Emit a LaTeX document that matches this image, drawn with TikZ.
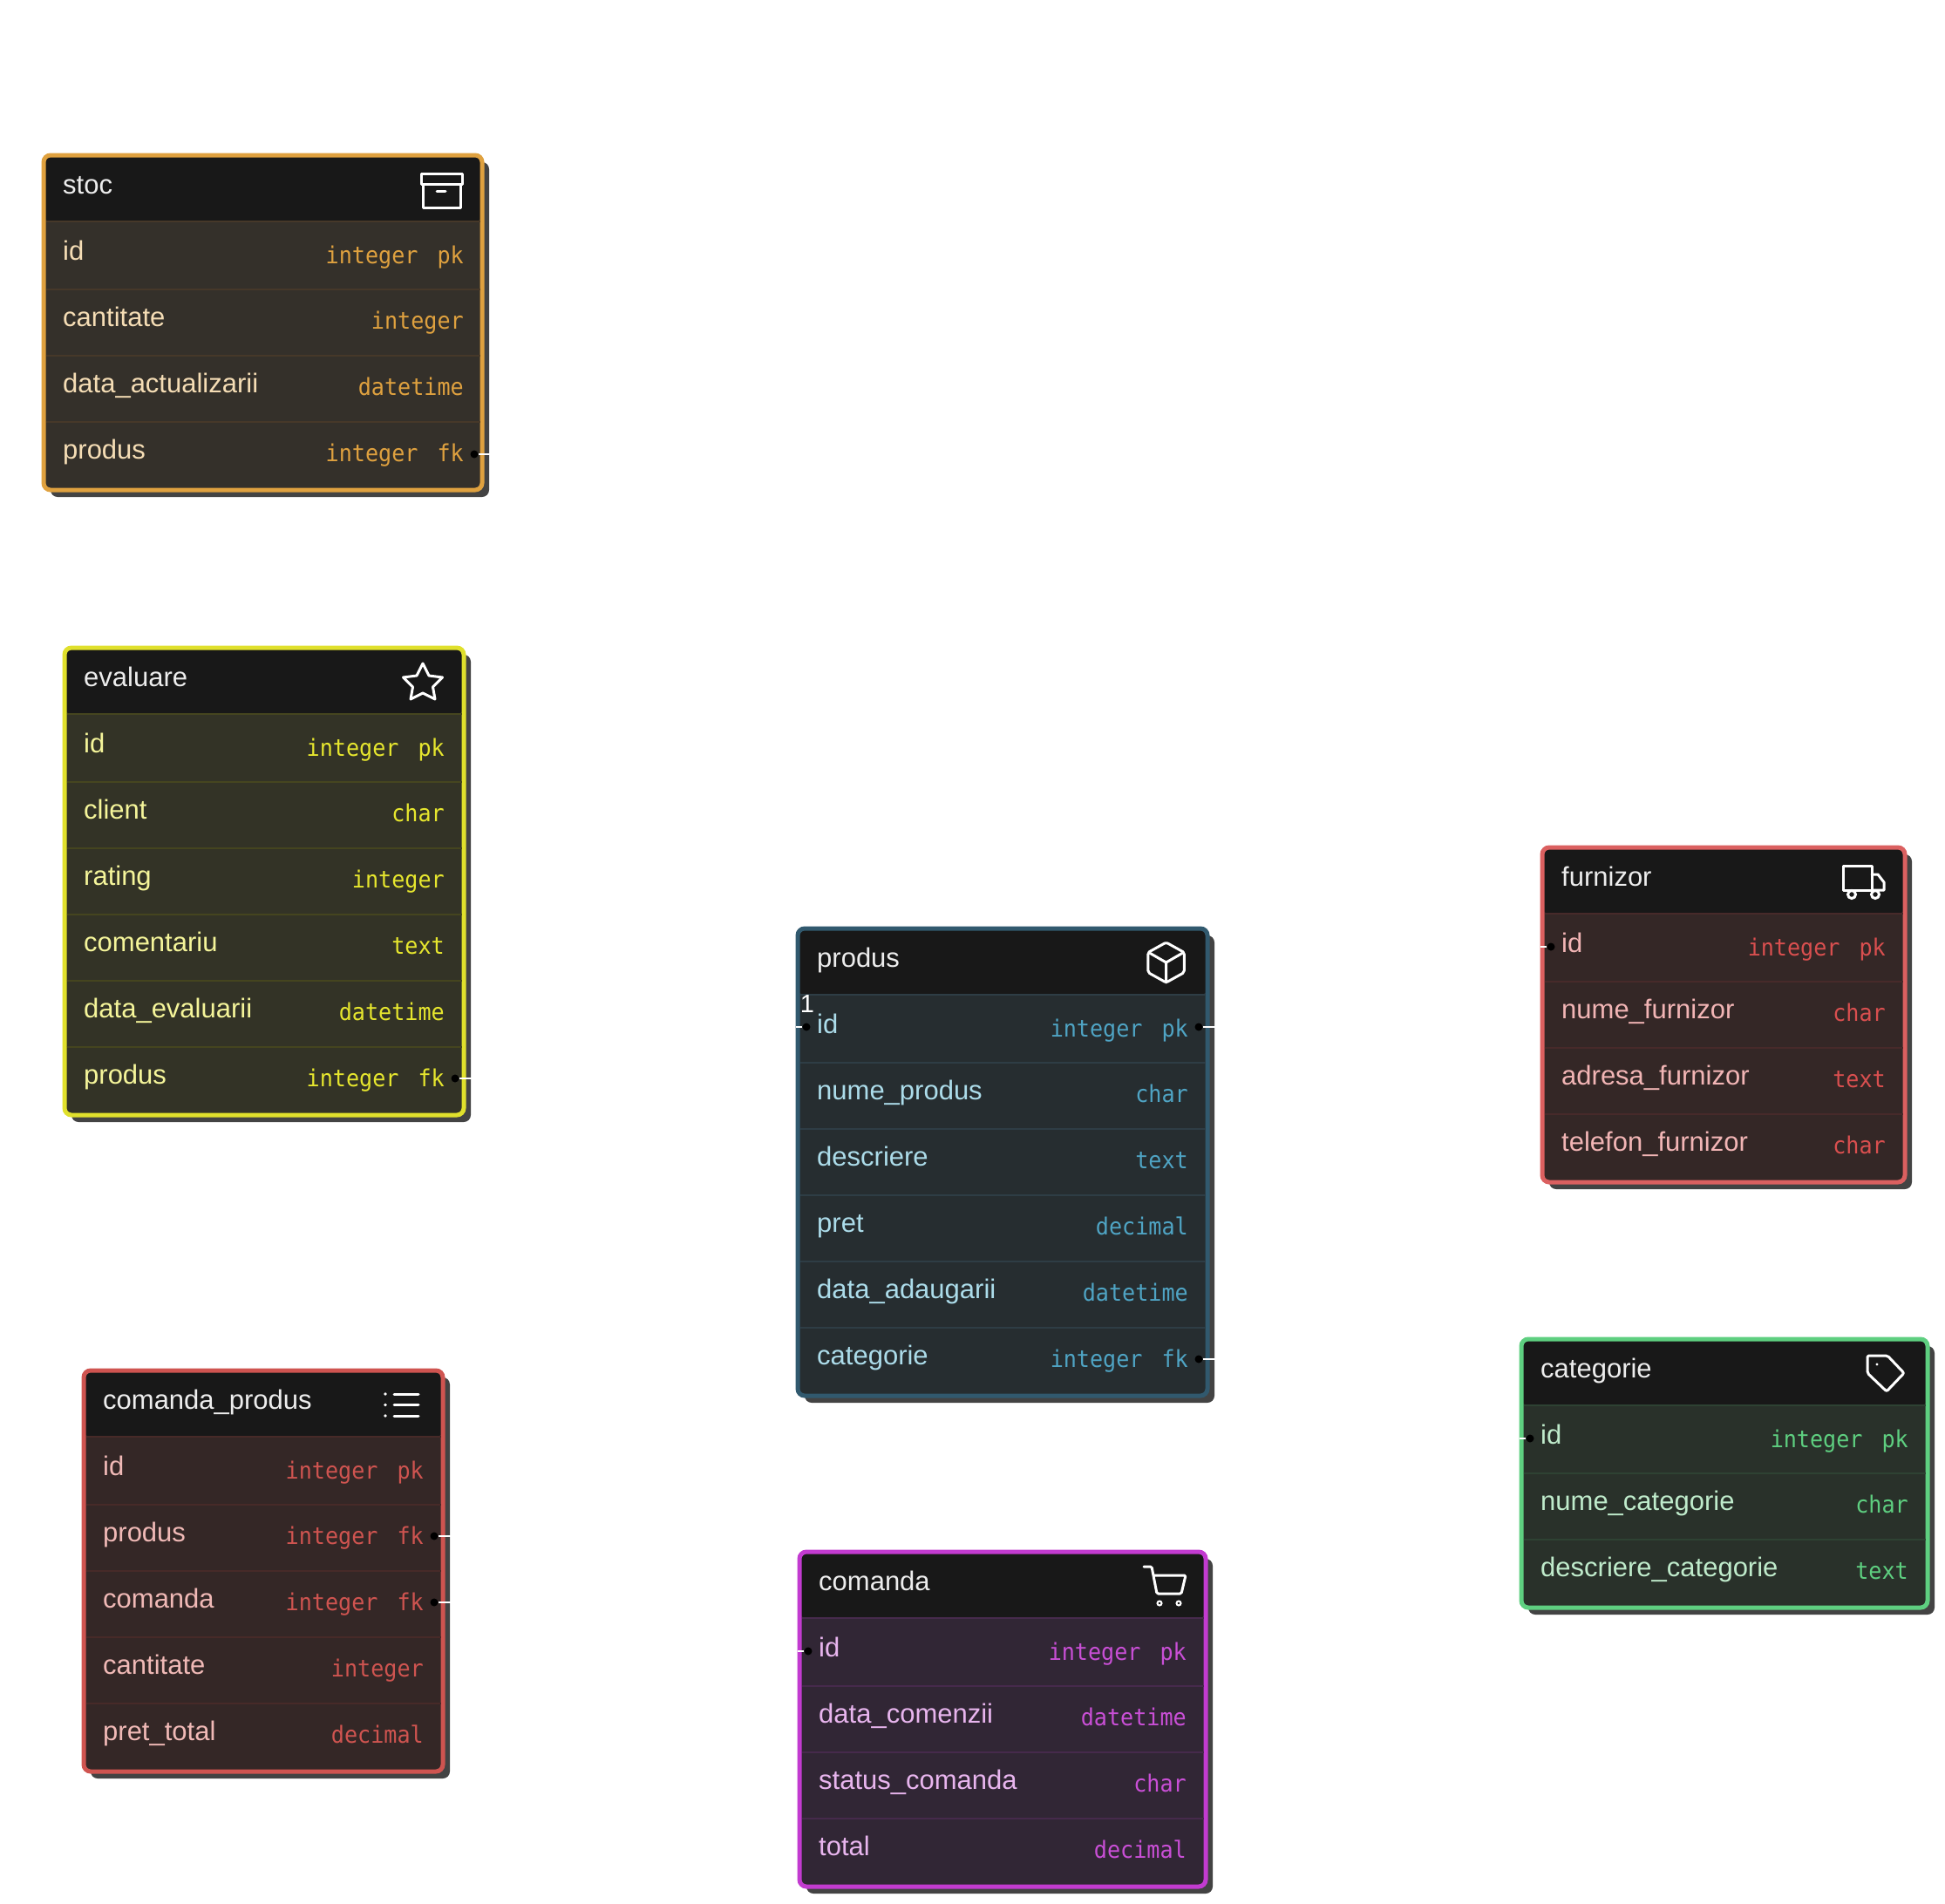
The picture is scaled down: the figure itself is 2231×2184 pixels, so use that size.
\documentclass[tikz,border=0pt]{standalone}
\usepackage{fontspec}
\usepackage{xcolor}
\setmainfont{Liberation Sans}
\newfontfamily\typefont[FakeStretch=0.93]{DejaVu Sans Mono}
\usetikzlibrary{calc,shadows}
\definecolor{headfill}{HTML}{181818}
\definecolor{headtext}{HTML}{EDEDED}
\definecolor{shadowgrey}{HTML}{434343}
\definecolor{stocline}{HTML}{DFA13F}
\definecolor{stocfill}{HTML}{34302A}
\definecolor{stocsep}{HTML}{463829}
\definecolor{stocsoft}{HTML}{F5DDB5}
\definecolor{stocink}{HTML}{DFA13F}
\definecolor{evalline}{HTML}{E0E02C}
\definecolor{evalfill}{HTML}{333326}
\definecolor{evalsep}{HTML}{45451F}
\definecolor{evalsoft}{HTML}{F5F59A}
\definecolor{evalink}{HTML}{E6E62E}
\definecolor{cpline}{HTML}{CF5450}
\definecolor{cpfill}{HTML}{342726}
\definecolor{cpsep}{HTML}{472A28}
\definecolor{cpsoft}{HTML}{F0B9B6}
\definecolor{cpink}{HTML}{CF5450}
\definecolor{prodline}{HTML}{31596E}
\definecolor{prodfill}{HTML}{262D30}
\definecolor{prodsep}{HTML}{2E3D45}
\definecolor{prodsoft}{HTML}{ACDCEA}
\definecolor{prodink}{HTML}{4FA4C4}
\definecolor{cmdline}{HTML}{C23BD0}
\definecolor{cmdfill}{HTML}{312635}
\definecolor{cmdsep}{HTML}{462A4C}
\definecolor{cmdsoft}{HTML}{E8B5EE}
\definecolor{cmdink}{HTML}{C94FD6}
\definecolor{furnline}{HTML}{DB6060}
\definecolor{furnfill}{HTML}{342726}
\definecolor{furnsep}{HTML}{472A2A}
\definecolor{furnsoft}{HTML}{F2B5B5}
\definecolor{furnink}{HTML}{D94F4F}
\definecolor{catline}{HTML}{5ECF80}
\definecolor{catfill}{HTML}{29312A}
\definecolor{catsep}{HTML}{2E4233}
\definecolor{catsoft}{HTML}{BFEBCB}
\definecolor{catink}{HTML}{5ECF80}

\begin{document}
\begin{tikzpicture}[
  x=1pt,y=-1pt,
  tablebox/.style={rectangle,draw,line width=5pt,rounded corners=8pt,anchor=north west,
                   inner sep=0pt,outer sep=0pt,
                   drop shadow={shadow xshift=8pt,shadow yshift=-8pt,fill=shadowgrey,opacity=1},
                   path picture={\fill[headfill] (path picture bounding box.north west) rectangle
                     ([yshift=-76pt]path picture bounding box.north east);}},
  tabletitle/.style={anchor=base west,inner sep=0pt,yshift=-1pt,text=headtext,font=\fontsize{31}{34}\selectfont},
  fieldname/.style={anchor=base west,inner sep=0pt,yshift=-1pt,font=\fontsize{31}{34}\selectfont},
  fieldtype/.style={anchor=base east,inner sep=0pt,font=\typefont\fontsize{27}{30}\selectfont},
  sepline/.style={line width=2.5pt},
  icon/.style={draw=white,line width=3pt,line join=round,line cap=round},
  port/.style={circle,fill=black,minimum size=9pt,inner sep=0pt},
  stub/.style={draw=white,line width=2.5pt},
  stocname/.style={fieldname,text=stocsoft},
  stoctype/.style={fieldtype,text=stocink},
  evalname/.style={fieldname,text=evalsoft},
  evaltype/.style={fieldtype,text=evalink},
  cpname/.style={fieldname,text=cpsoft},
  cptype/.style={fieldtype,text=cpink},
  prodname/.style={fieldname,text=prodsoft},
  prodtype/.style={fieldtype,text=prodink},
  cmdname/.style={fieldname,text=cmdsoft},
  cmdtype/.style={fieldtype,text=cmdink},
  furnname/.style={fieldname,text=furnsoft},
  furntype/.style={fieldtype,text=furnink},
  catname/.style={fieldname,text=catsoft},
  cattype/.style={fieldtype,text=catink}
]
\useasboundingbox (0,0) rectangle (2231,2184);

% stoc
\node[tablebox,draw=stocline,fill=stocfill,minimum width=503pt,minimum height=384pt] (stoc) at (50,178) {};
\draw[sepline,draw=stocsep] (52.5,254) -- (550.5,254) (52.5,332) -- (550.5,332) (52.5,408) -- (550.5,408) (52.5,484) -- (550.5,484);
\node[tabletitle] (stoctitle) at (72,221) {stoc};
\node[stocname] (stocid) at (72,297) {id};
\node[stoctype] (stocidtype) at (532,302) {integer\hspace{22pt}pk};
\node[stocname] (stoccant) at (72,373) {cantitate};
\node[stoctype] (stoccanttype) at (532,377) {integer};
\node[stocname] (stocdata) at (72,449) {data\_actualizarii};
\node[stoctype] (stocdatatype) at (532,453) {datetime};
\node[stocname] (stocprod) at (72,525) {produs};
\node[stoctype] (stocprodtype) at (532,529) {integer\hspace{22pt}fk};
\draw[icon] (483,199) rectangle (530,211) (485,211) rectangle (528,238) (501,219) -- (511,219);
\node[port] (stocport) at (544,521) {};
\coordinate (stocstub) at (563,521);
\draw[stub] (stocport) -- (stocstub);

% evaluare
\node[tablebox,draw=evalline,fill=evalfill,minimum width=458pt,minimum height=536pt] (evaluare) at (74,743) {};
\draw[sepline,draw=evalsep] (76.5,819) -- (529.5,819) (76.5,897) -- (529.5,897) (76.5,973) -- (529.5,973) (76.5,1049) -- (529.5,1049) (76.5,1125) -- (529.5,1125) (76.5,1201) -- (529.5,1201);
\node[tabletitle] (evaltitle) at (96,786) {evaluare};
\node[evalname] (evalid) at (96,862) {id};
\node[evaltype] (evalidtype) at (510,867) {integer\hspace{22pt}pk};
\node[evalname] (evalclient) at (96,938) {client};
\node[evaltype] (evalclienttype) at (510,942) {char};
\node[evalname] (evalrating) at (96,1014) {rating};
\node[evaltype] (evalratingtype) at (510,1018) {integer};
\node[evalname] (evalcom) at (96,1090) {comentariu};
\node[evaltype] (evalcomtype) at (510,1094) {text};
\node[evalname] (evaldata) at (96,1166) {data\_evaluarii};
\node[evaltype] (evaldatatype) at (510,1170) {datetime};
\node[evalname] (evalprod) at (96,1242) {produs};
\node[evaltype] (evalprodtype) at (510,1246) {integer\hspace{22pt}fk};
\draw[icon] (485,761) -- (492,775) -- (507.5,777) -- (496.5,788) -- (499,802) -- (485,795) -- (471,802) -- (473.5,788) -- (462.5,777) -- (478,775) -- cycle;
\node[port] (evalport) at (522,1237) {};
\coordinate (evalstub) at (542,1237);
\draw[stub] (evalport) -- (evalstub);

% comanda_produs
\node[tablebox,draw=cpline,fill=cpfill,minimum width=412pt,minimum height=460pt] (comandaprodus) at (96,1572) {};
\draw[sepline,draw=cpsep] (98.5,1648) -- (505.5,1648) (98.5,1726) -- (505.5,1726) (98.5,1802) -- (505.5,1802) (98.5,1878) -- (505.5,1878) (98.5,1954) -- (505.5,1954);
\node[tabletitle] (cptitle) at (118,1615) {comanda\_produs};
\node[cpname] (cpid) at (118,1691) {id};
\node[cptype] (cpidtype) at (486,1696) {integer\hspace{22pt}pk};
\node[cpname] (cpprod) at (118,1767) {produs};
\node[cptype] (cpprodtype) at (486,1771) {integer\hspace{22pt}fk};
\node[cpname] (cpcmd) at (118,1843) {comanda};
\node[cptype] (cpcmdtype) at (486,1847) {integer\hspace{22pt}fk};
\node[cpname] (cpcant) at (118,1919) {cantitate};
\node[cptype] (cpcanttype) at (486,1923) {integer};
\node[cpname] (cppret) at (118,1995) {pret\_total};
\node[cptype] (cppretttype) at (486,1999) {decimal};
\draw[icon] (452,1599) -- (480,1599) (452,1611.5) -- (480,1611.5) (452,1624) -- (480,1624);
\fill[white] (442,1599) circle (1.8) (442,1611.5) circle (1.8) (442,1624) circle (1.8);
\node[port] (cpprodport) at (498,1762) {};
\coordinate (cpprodstub) at (518,1762);
\draw[stub] (cpprodport) -- (cpprodstub);
\node[port] (cpcmdport) at (498,1838) {};
\coordinate (cpcmdstub) at (518,1838);
\draw[stub] (cpcmdport) -- (cpcmdstub);

% produs
\node[tablebox,draw=prodline,fill=prodfill,minimum width=470pt,minimum height=536pt] (produs) at (915,1065) {};
\draw[sepline,draw=prodsep] (917.5,1141) -- (1382.5,1141) (917.5,1219) -- (1382.5,1219) (917.5,1295) -- (1382.5,1295) (917.5,1371) -- (1382.5,1371) (917.5,1447) -- (1382.5,1447) (917.5,1523) -- (1382.5,1523);
\node[tabletitle] (prodtitle) at (937,1108) {produs};
\node[prodname] (prodid) at (937,1184) {id};
\node[prodtype] (prodidtype) at (1363,1189) {integer\hspace{22pt}pk};
\node[prodname] (prodnume) at (937,1260) {nume\_produs};
\node[prodtype] (prodnumetype) at (1363,1264) {char};
\node[prodname] (proddesc) at (937,1336) {descriere};
\node[prodtype] (proddesctype) at (1363,1340) {text};
\node[prodname] (prodpret) at (937,1412) {pret};
\node[prodtype] (prodprettype) at (1363,1416) {decimal};
\node[prodname] (proddata) at (937,1488) {data\_adaugarii};
\node[prodtype] (proddatatype) at (1363,1492) {datetime};
\node[prodname] (prodcat) at (937,1564) {categorie};
\node[prodtype] (prodcattype) at (1363,1568) {integer\hspace{22pt}fk};
\begin{scope}[shift={(1310,1076.4)},x=2.3pt,y=-2.3pt]
  \draw[icon,rounded corners=2pt] (12,2) -- (21,7) -- (21,17) -- (12,22) -- (3,17) -- (3,7) -- cycle;
  \draw[icon] (3.3,7) -- (12,12) -- (20.7,7) (12,12) -- (12,22);
\end{scope}
\node[port] (prodidport) at (925,1178) {};
\coordinate (prodidstub) at (913,1178);
\draw[stub] (prodidport) -- (prodidstub);
\node[port] (prodpkport) at (1375,1178) {};
\coordinate (prodpkstub) at (1395,1178);
\draw[stub] (prodpkport) -- (prodpkstub);
\node[port] (prodcatport) at (1375,1559) {};
\coordinate (prodcatstub) at (1395,1559);
\draw[stub] (prodcatport) -- (prodcatstub);
\node[anchor=base,inner sep=0pt,text=white,font=\fontsize{29}{32}\selectfont] (prodone) at (926,1161) {1};

% comanda
\node[tablebox,draw=cmdline,fill=cmdfill,minimum width=466pt,minimum height=384pt] (comanda) at (917,1780) {};
\draw[sepline,draw=cmdsep] (919.5,1856) -- (1380.5,1856) (919.5,1934) -- (1380.5,1934) (919.5,2010) -- (1380.5,2010) (919.5,2086) -- (1380.5,2086);
\node[tabletitle] (cmdtitle) at (939,1823) {comanda};
\node[cmdname] (cmdid) at (939,1899) {id};
\node[cmdtype] (cmdidtype) at (1361,1904) {integer\hspace{22pt}pk};
\node[cmdname] (cmddata) at (939,1975) {data\_comenzii};
\node[cmdtype] (cmddatatype) at (1361,1979) {datetime};
\node[cmdname] (cmdstatus) at (939,2051) {status\_comanda};
\node[cmdtype] (cmdstatustype) at (1361,2055) {char};
\node[cmdname] (cmdtotal) at (939,2127) {total};
\node[cmdtype] (cmdtotaltype) at (1361,2131) {decimal};
\draw[icon,rounded corners=1.5pt] (1312,1797) -- (1321,1797) -- (1327,1828) -- (1355,1828) -- (1360,1807) -- (1323,1807);
\draw[draw=white,line width=2pt] (1330,1839) circle (2.5) (1352,1839) circle (2.5);
\node[port] (cmdport) at (927,1894) {};
\coordinate (cmdstub) at (915,1894);
\draw[stub] (cmdport) -- (cmdstub);

% furnizor
\node[tablebox,draw=furnline,fill=furnfill,minimum width=416pt,minimum height=384pt] (furnizor) at (1769,972) {};
\draw[sepline,draw=furnsep] (1771.5,1048) -- (2182.5,1048) (1771.5,1126) -- (2182.5,1126) (1771.5,1202) -- (2182.5,1202) (1771.5,1278) -- (2182.5,1278);
\node[tabletitle] (furntitle) at (1791,1015) {furnizor};
\node[furnname] (furnid) at (1791,1091) {id};
\node[furntype] (furnidtype) at (2163,1096) {integer\hspace{22pt}pk};
\node[furnname] (furnnume) at (1791,1167) {nume\_furnizor};
\node[furntype] (furnnumetype) at (2163,1171) {char};
\node[furnname] (furnadr) at (1791,1243) {adresa\_furnizor};
\node[furntype] (furnadrtype) at (2163,1247) {text};
\node[furnname] (furntel) at (1791,1319) {telefon\_furnizor};
\node[furntype] (furnteltype) at (2163,1323) {char};
\draw[icon] (2114,993) rectangle (2147,1021);
\draw[icon] (2147,1003) -- (2154,1003) -- (2161,1012) -- (2161,1021) -- (2147,1021);
\fill[headfill,draw=white,line width=3pt] (2124,1026) circle (4.5) (2151,1026) circle (4.5);
\node[port] (furnport) at (1779,1086) {};
\coordinate (furnstub) at (1767,1086);
\draw[stub] (furnport) -- (furnstub);

% categorie
\node[tablebox,draw=catline,fill=catfill,minimum width=466pt,minimum height=308pt] (categorie) at (1745,1536) {};
\draw[sepline,draw=catsep] (1747.5,1612) -- (2208.5,1612) (1747.5,1690) -- (2208.5,1690) (1747.5,1766) -- (2208.5,1766);
\node[tabletitle] (cattitle) at (1767,1579) {categorie};
\node[catname] (catid) at (1767,1655) {id};
\node[cattype] (catidtype) at (2189,1660) {integer\hspace{22pt}pk};
\node[catname] (catnume) at (1767,1731) {nume\_categorie};
\node[cattype] (catnumetype) at (2189,1735) {char};
\node[catname] (catdesc) at (1767,1807) {descriere\_categorie};
\node[cattype] (catdesctype) at (2189,1811) {text};
\draw[icon,rounded corners=2pt] (2142,1555) -- (2165,1555) -- (2184,1575) -- (2164,1596) -- (2142,1575) -- cycle;
\fill[white] (2153,1565) circle (1.7);
\node[port] (catport) at (1755,1650) {};
\coordinate (catstub) at (1743,1650);
\draw[stub] (catport) -- (catstub);

\end{tikzpicture}
\end{document}
